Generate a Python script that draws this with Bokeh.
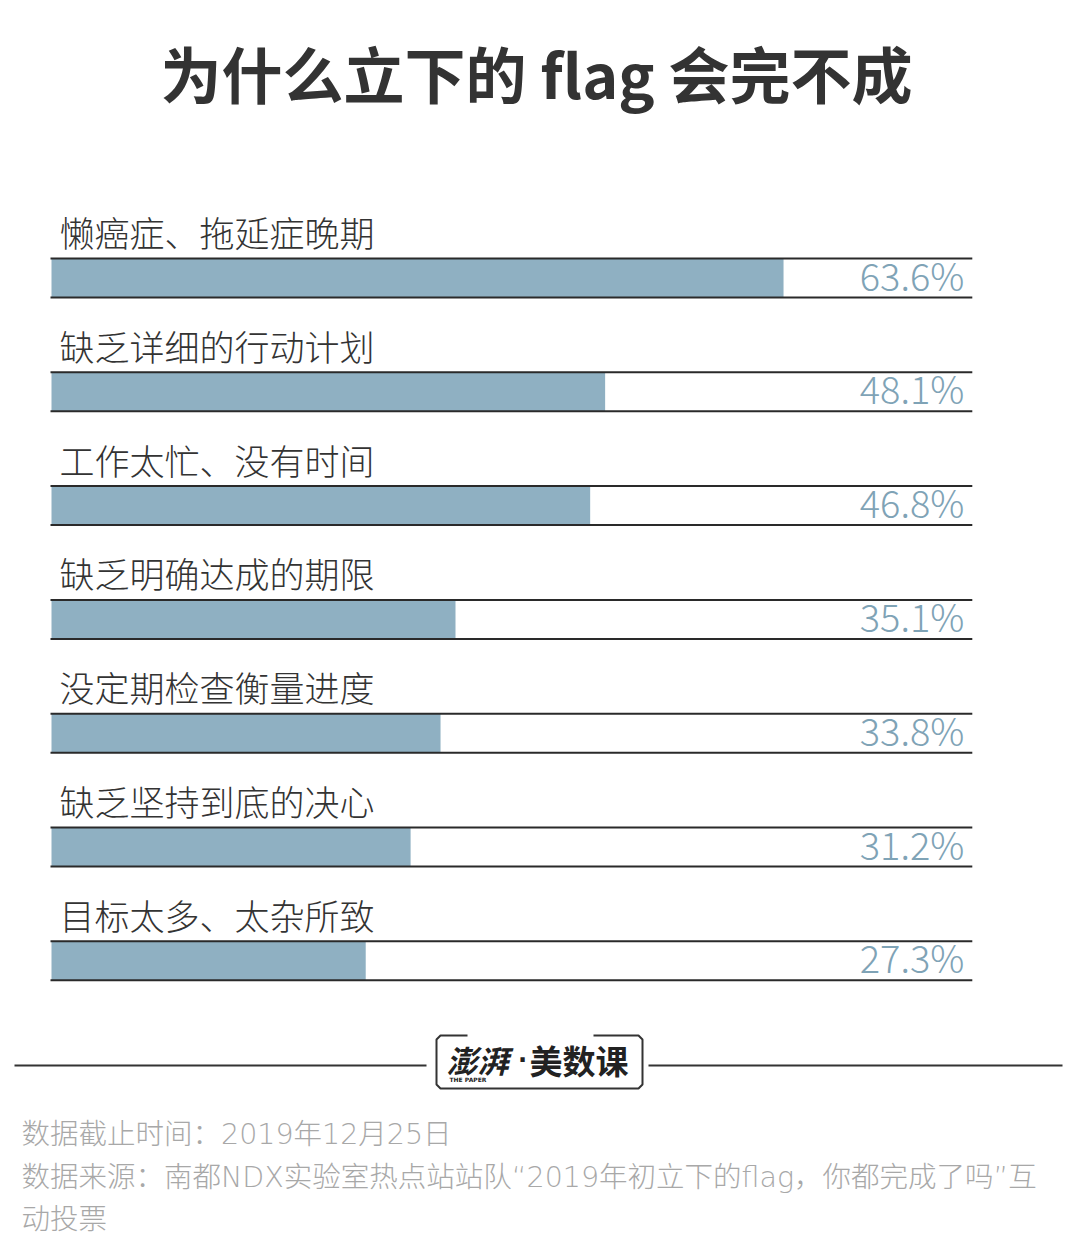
from bokeh.plotting import figure
from bokeh.models import Range1d, Label
from bokeh.core.properties import value
from bokeh.embed import file_html
from bokeh.resources import INLINE

# ---- data ----
categories = ["懒癌症、拖延症晚期", "缺乏详细的行动计划", "工作太忙、没有时间",
              "缺乏明确达成的期限", "没定期检查衡量进度", "缺乏坚持到底的决心",
              "目标太多、太杂所致"]
values = [63.6, 48.1, 46.8, 35.1, 33.8, 31.2, 27.3]
value_labels = [f"{v:.1f}%" for v in values]
track_max = 80
title = "为什么立下的 flag 会完不成"
note_lines = ["数据截止时间：2019年12月25日",
              "数据来源：南都NDX实验室热点站站队“2019年初立下的flag，你都完成了吗”互",
              "动投票"]

# ---- layout helpers (page pixel -> data) ----
W, H = 1072, 1247
X0 = 51.0        # page x of 0 %
PX_PER = 11.51   # px per percent
Y0 = 277.5       # page y of first row centre
ROW = 113.8      # px per row


def dx(px):
    return (px - X0) / PX_PER


def dy(py):
    return (py - Y0) / ROW


LIGHT_S = "Noto Sans CJK SC Light"
REG_S = "Noto Sans CJK SC"
NOTE_S = "DejaVu Sans Light, DejaVu Sans, Noto Sans CJK SC Light"
LIGHT = value(LIGHT_S)

p = figure(width=W, height=H,
           x_range=Range1d(dx(0), dx(W)),
           y_range=Range1d(dy(H), dy(0)),
           x_axis_type=None, y_axis_type=None,
           output_backend="svg", toolbar_location=None, min_border=0)
p.grid.visible = False
p.outline_line_color = None
p.background_fill_color = "white"
p.border_fill_color = "white"

n = len(categories)
idx = list(range(n))
bar_h = 39 / ROW

p.hbar(y=idx, left=0, right=values, height=bar_h,
       fill_color="#8fb0c2", line_color=None)
p.segment(x0=[dx(50)] * n, x1=[track_max] * n,
          y0=[i - bar_h / 2 for i in idx], y1=[i - bar_h / 2 for i in idx],
          line_color="#2a2a2a", line_width=2)
p.segment(x0=[dx(50)] * n, x1=[track_max] * n,
          y0=[i + bar_h / 2 for i in idx], y1=[i + bar_h / 2 for i in idx],
          line_color="#2a2a2a", line_width=2)

p.text(x=[0] * n, y=[i - 0.409 for i in idx], text=categories,
       x_offset=8, text_align="left", text_baseline="middle",
       text_font=LIGHT, text_font_size="35px", text_color="#333333")
p.text(x=[track_max] * n, y=[i - 0.035 for i in idx], text=value_labels,
       x_offset=-8, text_align="right", text_baseline="middle",
       text_font=LIGHT, text_font_size="38px", text_color="#7fa3b6")

# title
p.add_layout(Label(x=dx(536), y=dy(72), text=title, text_align="center",
                   text_baseline="middle", text_font=REG_S, text_font_style="bold",
                   text_font_size="61px", text_color="#333333"))

# footer rule
p.segment(x0=[dx(14), dx(648)], x1=[dx(426), dx(1062)],
          y0=[dy(1065)] * 2, y1=[dy(1065)] * 2, line_color="#333333", line_width=2)

# logo frame
bx = [dx(x) for x in [467, 440, 436, 436, 440, 638, 642, 642, 638, 593]]
by = [dy(y) for y in [1035, 1035, 1039, 1084, 1088, 1088, 1084, 1039, 1035, 1035]]
p.line(bx, by, line_color="#333333", line_width=2)
p.add_layout(Label(x=dx(446), y=dy(1059), text="澎湃", text_align="left",
                   text_baseline="middle", text_font=REG_S, text_font_style="bold italic",
                   text_font_size="31px", text_color="#222222"))
p.add_layout(Label(x=dx(522), y=dy(1059), text="·", text_align="center",
                   text_baseline="middle", text_font="DejaVu Sans", text_font_style="bold",
                   text_font_size="24px", text_color="#222222"))
p.add_layout(Label(x=dx(529), y=dy(1059), text="美数课", text_align="left",
                   text_baseline="middle", text_font=REG_S, text_font_style="bold",
                   text_font_size="33px", text_color="#222222"))
p.add_layout(Label(x=dx(449), y=dy(1079), text="THE  PAPER", text_align="left",
                   text_baseline="middle", text_font="DejaVu Sans",
                   text_font_style="bold", text_font_size="6px", text_color="#222222"))

# notes
for k, line in enumerate(note_lines):
    p.add_layout(Label(x=dx(21), y=dy(1134 + 42.5 * k), text=line, text_align="left",
                       text_baseline="middle", text_font=NOTE_S,
                       text_font_size="28.5px", text_color="#a8a8a8"))

open("out.html", "w").write(file_html(p, INLINE))
